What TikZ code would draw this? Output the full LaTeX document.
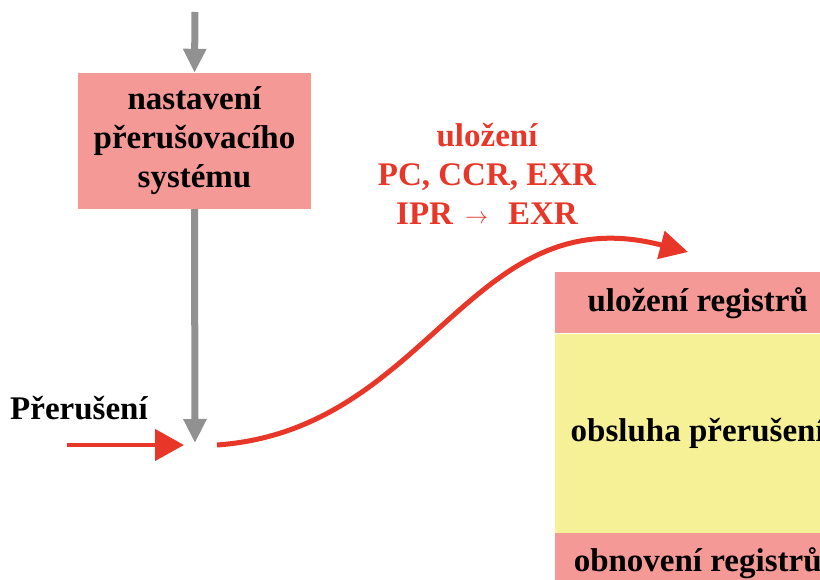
\documentclass[tikz,border=0pt]{standalone}
\usepackage{fontspec}
\setmainfont{Liberation Serif}
\usepackage{tikz}
\usetikzlibrary{positioning}
\usetikzlibrary{shapes,arrows.meta}
\definecolor{boxpink}{RGB}{245,153,150}
\definecolor{boxyellow}{RGB}{246,240,150}
\definecolor{flowgray}{RGB}{145,145,145}
\definecolor{flowred}{RGB}{232,55,40}
\newcommand{\bigbold}{\bfseries\fontsize{33}{39}\selectfont}
\tikzstyle{novertex} = [draw=none, fill=none, inner sep=0pt, font=\bigbold]
\tikzstyle{setbox} = [rectangle, fill=boxpink, align=center, text centered, minimum width=233pt, minimum height=136pt, inner sep=0pt, font=\bigbold]
\tikzstyle{pinkrow} = [rectangle, fill=boxpink, text centered, minimum width=285pt, minimum height=61pt, inner sep=0pt, anchor=north west, font=\bigbold]
\tikzstyle{yellowrow} = [pinkrow, fill=boxyellow, minimum height=199pt]
\tikzstyle{grayflow} = [draw=flowgray, line width=7pt, -{Triangle[length=24pt,width=22pt]}]
\tikzstyle{redflow} = [draw=flowred, line width=4.5pt, -{Triangle[length=29pt,width=31pt]}]
\tikzstyle{savepath} = [draw=flowred, line width=5pt, -{Triangle[length=28pt,width=28pt]}]

\begin{document}
\begin{tikzpicture}[x=1pt, y=-1pt]
	\useasboundingbox (0,0) rectangle (820,580);
	\clip (0,0) rectangle (820,580);

	% place nodes
	\node [setbox] (setup) at (194.5,141) {nastavení\\přerušovacího\\systému};
	\node [novertex, anchor=base west] (irqlabel) at (10,419) {Přerušení};
	\node [novertex, text=flowred, align=center, anchor=north] (savelabel) at (487,123)
		{uložení\\PC, CCR, EXR\\IPR\hspace{12pt}\raisebox{1pt}{\resizebox{23pt}{!}{$\rightarrow$}}\hspace{20pt}EXR};

	\node [pinkrow] (saveregs) at (555,272) {uložení registrů};
	\node [yellowrow] (isr) at (saveregs.south west) {obsluha přerušení};
	\node [pinkrow] (restoreregs) at (isr.south west) {obnovení registrů};

	% free ends
	\coordinate (entry) at (195,12);
	\coordinate (merge) at (195,443);
	\coordinate (irqstart) at (67,445);
	\coordinate (irqend) at (184,445);
	\coordinate (savestart) at (217,445);
	\coordinate (saveend) at (688,252);

	% draw edges
	\path [grayflow] (entry) -- (setup.north);
	\path [grayflow] (setup.south) -- (merge);
	\path [redflow] (irqstart) -- (irqend);
	\path [savepath] (savestart) .. controls (430,430) and (470,195) .. (saveend);
\end{tikzpicture}
\end{document}
